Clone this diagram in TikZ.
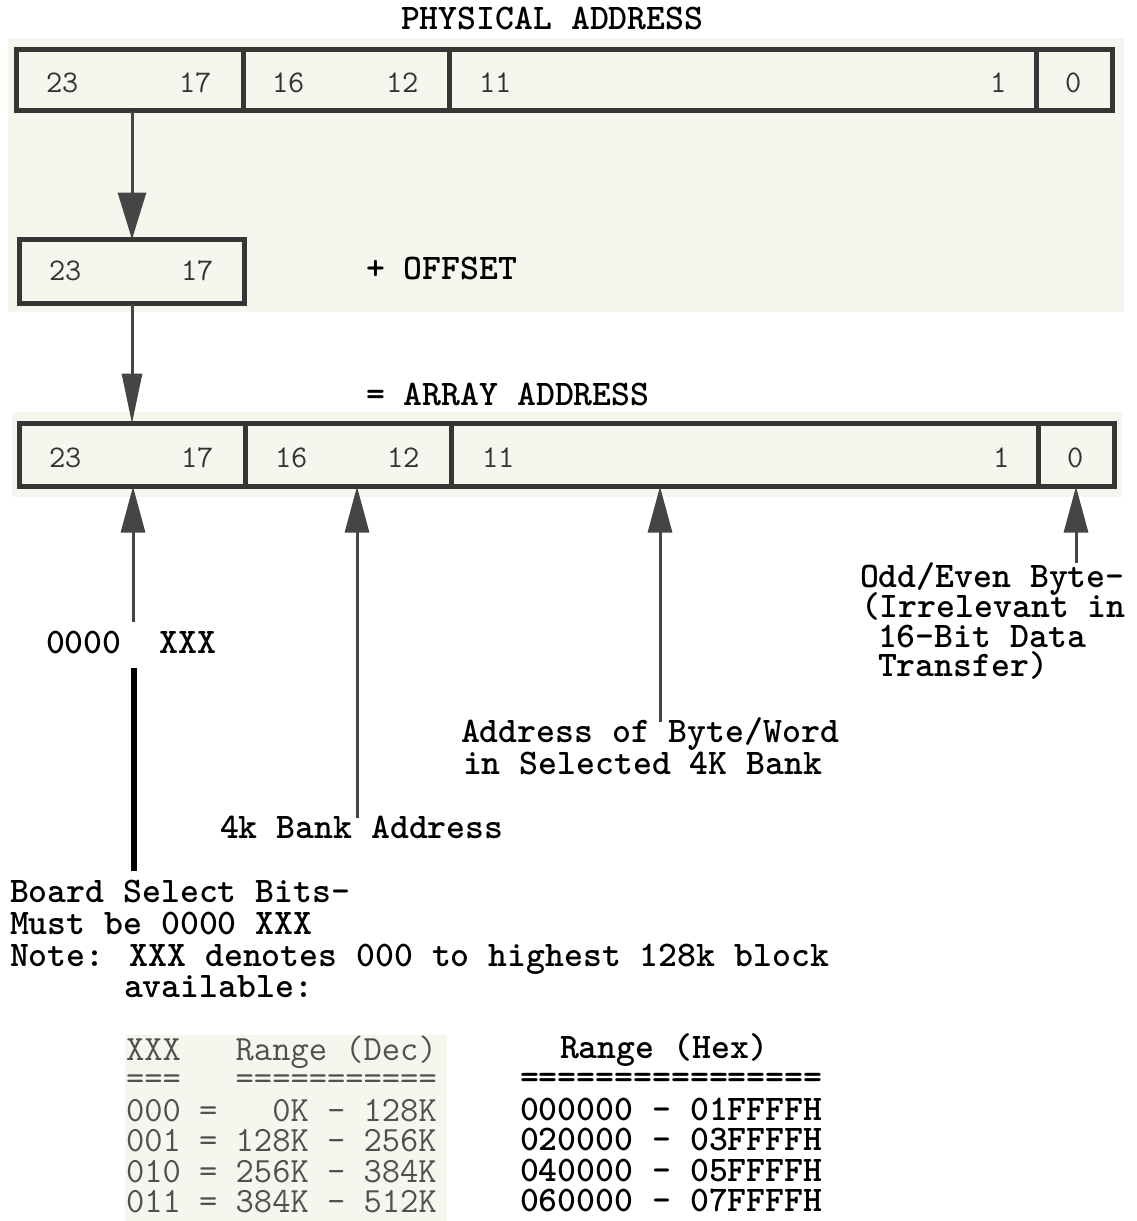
\documentclass[tikz,border=0pt]{standalone}
\usetikzlibrary{arrows.meta}
\definecolor{bg}{HTML}{F6F6EF}
\definecolor{ink}{HTML}{363636}
\definecolor{arr}{HTML}{454545}
\definecolor{dig}{HTML}{333333}
\definecolor{tbl}{HTML}{505050}
\begin{document}
\begin{tikzpicture}[x=1pt,y=-1pt,
  field/.style={draw=ink, fill=bg, line width=5pt, inner sep=0pt, outer sep=0pt,
                anchor=north west, minimum height=#1},
  field/.default=62pt,
  lab/.style={anchor=base west, inner sep=0pt, outer sep=0pt, text=black,
              text height=22pt, text depth=6pt,
              font={\fontsize{36}{36}\selectfont\ttfamily\bfseries}},
  dg/.style={anchor=base west, inner sep=0pt, outer sep=0pt, text=dig,
             font={\fontsize{31.5}{31.5}\selectfont\ttfamily}},
  tb/.style={anchor=base west, inner sep=0pt, outer sep=0pt, text=tbl,
             text height=22pt, text depth=6pt,
             font={\fontsize{35.5}{35.5}\selectfont\ttfamily}},
  downarrow/.style={draw=arr, line width=3pt, -{Triangle[length=47pt,width=28pt]}},
  downarrowb/.style={draw=arr, line width=3pt, -{Triangle[length=50pt,width=20pt]}},
  uparrow/.style={draw=arr, line width=3pt, -{Triangle[length=46pt,width=24pt]}},
  boardline/.style={draw=black, line width=6pt}]
\useasboundingbox (0,0) rectangle (1136,1221);
\fill[white] (0,0) rectangle (1136,1221);
% scanned paper tint
\fill[bg] (8,38) rectangle (1124,312);
\fill[bg] (12,412) rectangle (1122,497);
\fill[bg] (125,1035) rectangle (447,1221);

% ---------- physical address ----------
\node[lab] (phys) at (401,29) {PHYSICAL ADDRESS};
\node[field=61pt, minimum width=226.5pt] (p23) at (16.5,49.5) {};
\node[field=61pt, minimum width=206pt]   (p16) at (243,49.5) {};
\node[field=61pt, minimum width=587pt]   (p11) at (449,49.5) {};
\node[field=61pt, minimum width=76.5pt]  (p0)  at (1036,49.5) {};
\node[dg] (p23a) at (46,92) {23};
\node[dg] (p23b) at (179,92) {17};
\node[dg] (p16a) at (272,92) {16};
\node[dg] (p16b) at (386,92) {12};
\node[dg] (p11a) at (479,92) {11};
\node[dg] (p11b) at (990,92) {1};
\node[dg] (p0a)  at (1065,92) {0};

% ---------- offset ----------
\node[field=64pt, minimum width=225pt] (b2) at (19.5,239.5) {};
\node[dg] (b2a) at (49,280) {23};
\node[dg] (b2b) at (181,280) {17};
\node[lab] (offs) at (366,279) {+ OFFSET};

% ---------- array address ----------
\node[lab] (arrt) at (366,405) {= ARRAY ADDRESS};
\node[field=63pt, minimum width=225.5pt] (a23) at (19.5,423.5) {};
\node[field=63pt, minimum width=206pt]   (a16) at (245,423.5) {};
\node[field=63pt, minimum width=587pt]   (a11) at (451,423.5) {};
\node[field=63pt, minimum width=76.5pt]  (a0)  at (1038,423.5) {};
\node[dg] (a23a) at (49,467) {23};
\node[dg] (a23b) at (181,467) {17};
\node[dg] (a16a) at (275,467) {16};
\node[dg] (a16b) at (387,467) {12};
\node[dg] (a11a) at (482,467) {11};
\node[dg] (a11b) at (993,467) {1};
\node[dg] (a0a)  at (1067,467) {0};

% ---------- down arrows ----------
\draw[downarrow] (b2.north |- p23.south) -- (b2.north);
\draw[downarrowb] (b2.south) -- (b2.south |- a23.north);

% ---------- labels below ----------
\node[lab] (zx) at (46,653) {0000\hphantom{0}\hphantom{0}XXX};
\node[lab] (odd1) at (860,587) {Odd/Even Byte-};
\node[lab] (odd2) at (861,617) {(Irrelevant in};
\node[lab] (odd3) at (878,647) {16-Bit Data};
\node[lab] (odd4) at (878,676) {Transfer)};
\node[lab] (adr1) at (461,742) {Address of Byte/Word};
\node[lab] (adr2) at (463,774) {in Selected 4K Bank};
\node[lab] (bank) at (220,838) {4k Bank Address};
\node[lab] (bs1) at (10,902) {Board Select Bits-};
\node[lab] (bs2) at (10,934) {Must be 0000 XXX};
\node[lab] (bs3) at (10,966) {Note: XXX denotes 000 to highest 128k block};
\node[lab] (bs4) at (124,997) {available:};

% ---------- up arrows ----------
\coordinate (u1) at (133,622);
\coordinate (u2) at (357,818);
\coordinate (u3) at (660,722);
\coordinate (u4) at (1076,563);
\draw[uparrow] (u1) -- (u1 |- a23.south);
\draw[uparrow] (u2) -- (u2 |- a16.south);
\draw[uparrow] (u3) -- (u3 |- a11.south);
\draw[uparrow] (u4) -- (u4 |- a0.south);

\coordinate (bl1) at (134,668);
\coordinate (bl2) at (134,871);
\draw[boardline] (bl1) -- (bl2);

% ---------- tables ----------
\node[tb] (t1) at (126,1060) {XXX\hphantom{000}Range (Dec)};
\node[tb] (t2) at (126,1089) {===\hphantom{000}===========};
\node[tb] (t3) at (126,1121) {000 =\hphantom{000}0K - 128K};
\node[tb] (t4) at (126,1151) {001 = 128K - 256K};
\node[tb] (t5) at (126,1182) {010 = 256K - 384K};
\node[tb] (t6) at (126,1212) {011 = 384K - 512K};

\node[lab] (h1) at (560,1058) {Range (Hex)};
\node[lab] (h2) at (520,1088) {================};
\node[lab] (h3) at (520,1120) {000000 - 01FFFFH};
\node[lab] (h4) at (520,1150) {020000 - 03FFFFH};
\node[lab] (h5) at (520,1181) {040000 - 05FFFFH};
\node[lab] (h6) at (520,1211) {060000 - 07FFFFH};
\end{tikzpicture}
\end{document}
